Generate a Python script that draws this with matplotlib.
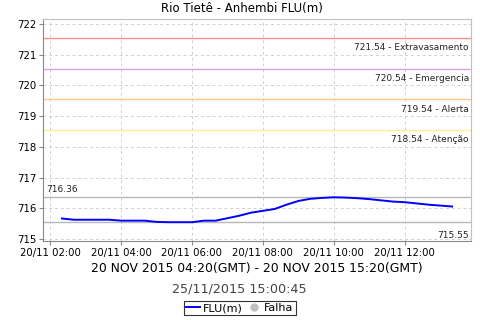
import datetime as dt
import matplotlib
matplotlib.use('Agg')
import matplotlib.pyplot as plt
import matplotlib.dates as mdates
from matplotlib.lines import Line2D

# readings every 20 min, local time (20/11/2015)
start = dt.datetime(2015, 11, 20, 2, 20)
level = [715.67, 715.63, 715.63, 715.63, 715.63, 715.60, 715.60, 715.60,
         715.56, 715.55, 715.55, 715.55, 715.60, 715.60, 715.68, 715.76,
         715.86, 715.92, 715.98, 716.12, 716.24, 716.31, 716.34, 716.36,
         716.35, 716.33, 716.30, 716.26, 716.22, 716.20, 716.16, 716.12,
         716.09, 716.06]
times = [start + dt.timedelta(minutes=20 * i) for i in range(len(level))]

limits = [721.54, 720.54, 719.54, 718.54]
limit_names = ['Extravasamento', 'Emergencia', 'Alerta', 'Atenção']
limit_colors = ['#ff8c8c', '#e89ce8', '#ffc88a', '#fff08a']
vmax = 716.36
vmin = 715.55

fig = plt.figure(figsize=(4.8, 3.2), dpi=100)
ax = fig.add_axes([0.0896, 0.247, 0.8917, 0.694])

ax.plot(times, level, color='#0000ff', lw=1.4, zorder=5)

for v, name, c in zip(limits, limit_names, limit_colors):
    ax.axhline(v, color=c, lw=1)
    ax.text(0.995, v - 0.17, '%.2f - %s' % (v, name), transform=ax.get_yaxis_transform(),
            ha='right', va='top', fontsize=6.5, color='#222222')

ax.axhline(vmax, color='#b8b8b8', lw=1)
ax.axhline(vmin, color='#b8b8b8', lw=1)
ax.text(0.007, vmax + 0.12, '%.2f' % vmax, transform=ax.get_yaxis_transform(),
        ha='left', va='bottom', fontsize=6.5, color='#222222')
ax.text(0.995, 714.98, '%.2f' % vmin, transform=ax.get_yaxis_transform(),
        ha='right', va='bottom', fontsize=6.5, color='#222222')

ax.set_ylim(714.94, 722.16)
ax.set_yticks(range(715, 723))
ax.set_xlim(dt.datetime(2015, 11, 20, 1, 48), dt.datetime(2015, 11, 20, 13, 52))
ax.xaxis.set_major_locator(mdates.HourLocator(byhour=range(2, 14, 2)))
ax.xaxis.set_major_formatter(mdates.DateFormatter('%d/%m %H:%M'))

ax.grid(True, color='#d0d0d0', ls=(0, (3, 3)), lw=0.7)
ax.tick_params(labelsize=7.3, length=3, color='#888888', pad=2)
for s in ax.spines.values():
    s.set_color('#c0c0c0')
ax.spines['left'].set_color('#888888')
ax.spines['bottom'].set_color('#888888')

fig.text(0.504, 0.972, 'Rio Tietê - Anhembi FLU(m)', ha='center', va='center', fontsize=8.5)
fig.text(0.535, 0.16, '20 NOV 2015 04:20(GMT) - 20 NOV 2015 15:20(GMT)',
         ha='center', va='center', fontsize=8.9)
fig.text(0.498, 0.097, '25/11/2015 15:00:45', ha='center', va='center',
         fontsize=9.2, color='#444444')

handles = [Line2D([], [], color='#0000ff', lw=1.4),
           Line2D([], [], marker='o', ls='none', color='#c0c0c0', markersize=5)]
leg = fig.legend(handles, ['FLU(m)', 'Falha'], loc='center', bbox_to_anchor=(0.5, 0.037),
                 ncol=2, fontsize=8, frameon=True, fancybox=False, borderpad=0.2,
                 handlelength=1.2, handletextpad=0.3, columnspacing=0.4)
leg.get_frame().set_edgecolor('black')
leg.get_frame().set_linewidth(0.8)

fig.savefig('out.png', dpi=100)
